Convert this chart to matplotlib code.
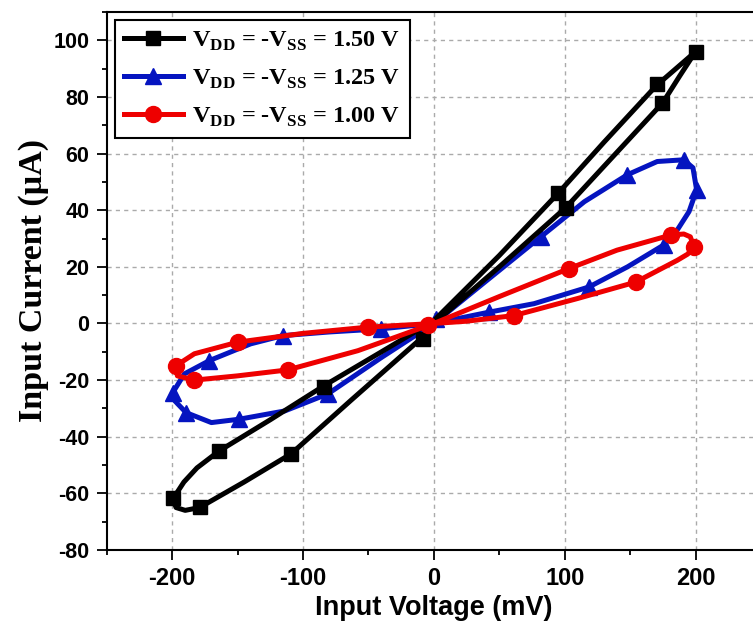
import matplotlib
matplotlib.use("Agg")
import matplotlib.pyplot as plt
from matplotlib.lines import Line2D
from matplotlib.ticker import MultipleLocator

plt.rcParams['font.family'] = 'Liberation Sans'
plt.rcParams['font.weight'] = 'bold'
plt.rcParams['axes.unicode_minus'] = False
plt.rcParams['mathtext.fontset'] = 'custom'
plt.rcParams['mathtext.rm'] = 'Liberation Serif:bold'
plt.rcParams['mathtext.bf'] = 'Liberation Serif:bold'

# traced loop outlines (mV, uA)
black_x = [0, 50, 101, 140, 175, 188, 200, 185, 170, 130, 95, 50, 0, -40, -84, -125, -164,
           -181, -191, -199.5, -197, -190, -179, -145, -109, -63, -9, 0]
black_y = [0, 20, 41, 60.5, 78, 87.5, 96, 90, 84, 64, 46, 24, 1, -10, -22, -34, -45,
           -51, -56, -62, -65, -66, -65, -56, -46, -27, -5, 0]
black_mx = [200.5, 170.7, 174.6, 94.7, 100.8, -8.6, -83.7, -163.9, -199.5, -179, -109]
black_my = [96, 84.4, 77.9, 46.1, 40.8, -5.4, -22.3, -45, -61.8, -64.9, -46.2]

blue_x = [0, 40, 81.7, 115, 147.8, 170.7, 190.8, 198, 200.8, 195, 186, 175.6, 148, 118.6,
          76.6, 42.2, 0, -40, -81.1, -114, -148.6, -170, -189.3, -198, -199.5, -190.6,
          -171.5, -140, -115.5, -80, -40.5, 0]
blue_y = [0, 15, 30.6, 43, 52.5, 57.2, 57.8, 55, 47.2, 39.5, 33, 27.7, 20, 12.9,
          7, 4, 0, -12, -24.9, -30.9, -33.8, -35, -31.5, -27.3, -24.4, -17.8,
          -13.1, -7.2, -4.3, -3, -1.9, 0]
blue_mx = [190.8, 200.8, 147.8, 81.7, 175.6, 118.6, 42.2, 1.5, -40.5, -115.5, -171.5,
           -199.5, -189.3, -148.6, -81.1]
blue_my = [57.8, 47.2, 52.5, 30.6, 27.7, 12.9, 4, 1.7, -1.9, -4.3, -13.1,
           -24.4, -31.5, -33.8, -24.9]

red_x = [0, 50, 103.3, 140, 180.9, 191, 196, 198.7, 194, 186, 154.2, 109.7, 61.3, 25, 0,
         -50.6, -100, -149.9, -183, -197, -196, -183, -150, -111.7, -58, 0]
red_y = [0, 9.5, 19.4, 25.9, 31.2, 31.6, 30.6, 27.1, 24.5, 22.3, 14.6, 8.8, 2.8, 0.8, 0,
         -1.3, -3.5, -6.6, -10.7, -14.9, -18.5, -20, -18.5, -16.4, -9.6, 0]
red_mx = [180.9, 198.7, 103.3, 154.2, 61.3, -4.8, -50.6, -149.9, -197, -183, -111.7]
red_my = [31.2, 27.1, 19.4, 14.6, 2.8, -0.7, -1.3, -6.6, -14.9, -20, -16.4]

labels = [r'V$_{\mathbf{DD}}$ = -V$_{\mathbf{SS}}$ = 1.50 V',
          r'V$_{\mathbf{DD}}$ = -V$_{\mathbf{SS}}$ = 1.25 V',
          r'V$_{\mathbf{DD}}$ = -V$_{\mathbf{SS}}$ = 1.00 V']

c_black, c_blue, c_red = '#000000', '#0514C0', '#EE0000'

fig = plt.figure(figsize=(7.53, 6.28), dpi=100)
ax = fig.add_axes([106.7 / 753, 1 - 550 / 628, (761 - 106.7) / 753, (550 - 12) / 628])

lw = 3.6
ax.plot(blue_x, blue_y, color=c_blue, lw=lw, zorder=3, solid_joinstyle='round')
ax.plot(blue_mx, blue_my, '^', color=c_blue, ms=11, zorder=3)
ax.plot(black_x, black_y, color=c_black, lw=lw, zorder=4, solid_joinstyle='round')
ax.plot(black_mx, black_my, 's', color=c_black, ms=9.5, zorder=4)
ax.plot(red_x, red_y, color=c_red, lw=lw, zorder=5, solid_joinstyle='round')
ax.plot(red_mx, red_my, 'o', color=c_red, ms=11.5, zorder=5)

ax.set_xlim(-250, 250)
ax.set_ylim(-80, 110)
ax.xaxis.set_minor_locator(MultipleLocator(50))
ax.yaxis.set_major_locator(MultipleLocator(20))
ax.yaxis.set_minor_locator(MultipleLocator(10))
ax.set_xticks([-200, -100, 0, 100, 200])
ax.grid(True, which='major', color='#aaaaaa', ls=(0, (3, 3)), lw=1)
ax.tick_params(which='major', direction='out', length=7, width=1.3)
ax.tick_params(which='minor', direction='out', length=3.6, width=1.3)
ax.tick_params(axis='x', which='major', labelsize=17, pad=5)
ax.tick_params(axis='y', which='major', labelsize=15.5, pad=5.5)
for s in ax.spines.values():
    s.set_linewidth(1.5)

ax.set_xlabel('Input Voltage (mV)', fontsize=19.5, fontweight='bold', labelpad=4)
ax.set_ylabel('Input Current (\u03bcA)', fontsize=24.5, fontweight='bold',
              family='Liberation Serif', labelpad=3)

handles = [Line2D([], [], color=c_black, lw=lw, marker='s', ms=9.5),
           Line2D([], [], color=c_blue, lw=lw, marker='^', ms=11),
           Line2D([], [], color=c_red, lw=lw, marker='o', ms=11.5)]
leg = ax.legend(handles, labels, loc='upper left', bbox_to_anchor=(0.0127, 0.985),
                borderaxespad=0, fancybox=False, framealpha=1, edgecolor='black',
                prop={'family': 'Liberation Serif', 'weight': 'bold', 'size': 17.5},
                handlelength=2.4, handletextpad=0.4, labelspacing=0.62, borderpad=0.38)
leg.get_frame().set_linewidth(1.5)

fig.savefig('out.png', dpi=100)
